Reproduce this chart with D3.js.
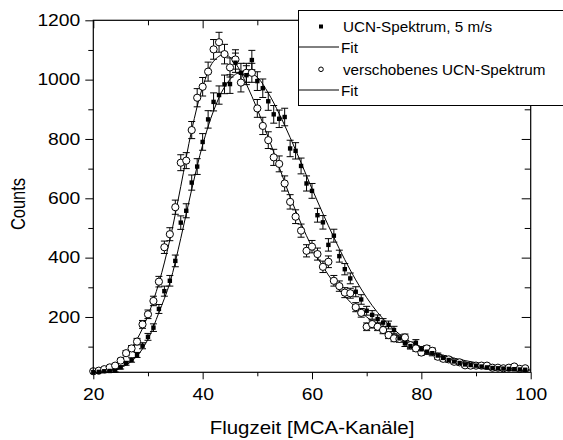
<!DOCTYPE html>
<html>
<head>
<meta charset="utf-8">
<script src="https://cdn.jsdelivr.net/npm/d3@7"></script>
<style>
  html, body { margin: 0; padding: 0; background: #fff; }
  svg { display: block; font-family: "Liberation Sans", Arial, sans-serif; }
</style>
</head>
<body>
<svg id="chart" width="563" height="440"></svg>
<script>
// ---- data ----
const channels = [20,21,22,23,24,25,26,27,28,29,30,31,32,33,34,35,36,37,38,39,
  40,41,42,43,44,45,46,47,48,49,50,51,52,53,54,55,56,57,58,59,
  60,61,62,63,64,65,66,67,68,69,70,71,72,73,74,75,76,77,78,79,
  80,81,82,83,84,85,86,87,88,89,90,91,92,93,94,95,96,97,98,99];

const spectrum5 = [14,15,17,18,19,30,44,55,72,103,133,164,227,287,322,389,518,558,653,707,
  790,866,925,948,984,985,1057,1023,1015,1066,995,971,927,883,868,874,768,760,709,650,
  625,543,519,443,474,405,361,330,285,259,221,207,193,181,173,156,128,111,102,113,
  91,83,78,70,62,55,50,45,40,38,36,33,30,28,27,26,25,24,23,22];

const spectrumShifted = [17,19,24,30,36,53,78,94,117,175,209,254,319,435,479,570,720,727,830,939,
  976,1027,1102,1126,1086,1041,1068,990,1023,1023,903,844,796,738,716,650,588,538,491,423,
  437,412,369,386,322,304,282,280,233,214,167,176,167,156,139,128,126,131,105,94,
  80,94,86,66,59,57,49,47,37,36,36,36,36,29,29,27,29,33,25,27];

const fitChannels = [20,22,24,26,28,30,32,34,36,38,40,42,44,46,48,50,52,54,56,58,
  60,62,64,66,68,70,72,74,76,78,80,82,84,86,88,90,92,94,96,98,100];
const fit5 = [10,14,22,38,68,125,215,315,465,630,780,895,975,1018,1028,1008,955,885,805,720,
  632,548,468,393,325,265,215,175,142,116,95,79,66,56,48,41,35,30,26,22,19];
const fitShifted = [14,22,40,72,125,205,315,460,640,830,975,1062,1085,1055,985,900,805,705,605,515,
  435,370,315,270,232,200,172,148,128,110,95,82,71,61,53,46,40,35,30,26,23];

const xMajor = [20,40,60,80,100];
const xMinor = [30,50,70,90];
const yMajor = [200,400,600,800,1000,1200];
const yMinor = [100,300,500,700,900,1100];

const legendLabels = ["UCN-Spektrum, 5 m/s", "Fit", "verschobenes UCN-Spektrum", "Fit"];
const xTitle = "Flugzeit [MCA-Kanäle]";
const yTitle = "Counts";

// ---- layout ----
const svg = d3.select("#chart");
const L = 93.3, R = 530.7, T = 20.3, B = 372.3;
const x = d3.scaleLinear().domain([20, 100]).range([L, R]);
const y = d3.scaleLinear().domain([13.5, 1200]).range([B, T]);

const axisColor = "#000";
const tickFont = 16.5;
const SX = 1.17; // horizontal stretch of the reference lettering

// fits
const line = d3.line().x(d => x(d[0])).y(d => y(d[1])).curve(d3.curveCatmullRom.alpha(0.5));
[fit5, fitShifted].forEach(f => {
  svg.append("path")
    .datum(fitChannels.map((c, i) => [c, f[i]]))
    .attr("d", line)
    .attr("fill", "none")
    .attr("stroke", "#000")
    .attr("stroke-width", 1);
});

// error bars
function errorBars(vals) {
  const g = svg.append("g").attr("stroke", "#000").attr("stroke-width", 1).attr("fill", "none");
  channels.forEach((c, i) => {
    const v = vals[i], e = Math.sqrt(v);
    const cx = x(c), y1 = y(v + e), y2 = y(Math.max(v - e, 13.5));
    g.append("line").attr("x1", cx).attr("x2", cx).attr("y1", y1).attr("y2", y2);
    g.append("line").attr("x1", cx - 3.5).attr("x2", cx + 3.5).attr("y1", y1).attr("y2", y1);
    if (v - e > 13.5)
      g.append("line").attr("x1", cx - 3.5).attr("x2", cx + 3.5).attr("y1", y2).attr("y2", y2);
  });
}
errorBars(spectrum5);
errorBars(spectrumShifted);

// markers
svg.append("g").selectAll("circle")
  .data(channels.map((c, i) => [c, spectrumShifted[i]]))
  .join("circle")
  .attr("cx", d => x(d[0])).attr("cy", d => y(d[1])).attr("r", 3.6)
  .attr("fill", "#fff").attr("stroke", "#000").attr("stroke-width", 1);

svg.append("g").selectAll("rect")
  .data(channels.map((c, i) => [c, spectrum5[i]]))
  .join("rect")
  .attr("x", d => x(d[0]) - 2.2).attr("y", d => y(d[1]) - 2.2)
  .attr("width", 4.4).attr("height", 4.4).attr("fill", "#000");

// axes
function styleAxis(g) {
  g.select(".domain").remove();
  g.selectAll("line").attr("stroke", axisColor).attr("stroke-width", 1);
  g.selectAll("text").attr("font-size", tickFont).attr("fill", "#000")
    .attr("font-family", "'Liberation Sans', Arial, sans-serif");
}
function stretchText(g) {
  g.selectAll("text").each(function () {
    const t = d3.select(this);
    const tx = +t.attr("x") || 0;
    t.attr("x", 0).attr("transform", `translate(${tx},0) scale(${SX},1)`);
  });
}
// bottom
svg.append("g").attr("transform", `translate(0,${B})`)
  .call(d3.axisBottom(x).tickValues(xMajor).tickSize(7).tickPadding(8.5).tickFormat(d3.format("d")))
  .call(styleAxis).call(stretchText);
svg.append("g").attr("transform", `translate(0,${B})`)
  .call(d3.axisBottom(x).tickValues(xMinor).tickSize(4).tickFormat(""))
  .call(styleAxis);
// top (inward)
svg.append("g").attr("transform", `translate(0,${T})`)
  .call(d3.axisBottom(x).tickValues(xMajor).tickSize(8).tickFormat(""))
  .call(styleAxis);
svg.append("g").attr("transform", `translate(0,${T})`)
  .call(d3.axisBottom(x).tickValues(xMinor).tickSize(5).tickFormat(""))
  .call(styleAxis);
// left
svg.append("g").attr("transform", `translate(${L},0)`)
  .call(d3.axisLeft(y).tickValues(yMajor).tickSize(8).tickPadding(5).tickFormat(d3.format("d")))
  .call(styleAxis).call(stretchText);
svg.append("g").attr("transform", `translate(${L},0)`)
  .call(d3.axisLeft(y).tickValues(yMinor).tickSize(5).tickFormat(""))
  .call(styleAxis);
// right (inward)
svg.append("g").attr("transform", `translate(${R},0)`)
  .call(d3.axisLeft(y).tickValues(yMajor).tickSize(9).tickFormat(""))
  .call(styleAxis);
svg.append("g").attr("transform", `translate(${R},0)`)
  .call(d3.axisLeft(y).tickValues(yMinor).tickSize(6).tickFormat(""))
  .call(styleAxis);

// frame
svg.append("rect").attr("x", L).attr("y", T).attr("width", R - L).attr("height", B - T)
  .attr("fill", "none").attr("stroke", axisColor).attr("stroke-width", 1.2);

// axis titles
svg.append("text").attr("transform", `translate(${(L + R) / 2},433.5) scale(${SX},1)`)
  .attr("text-anchor", "middle").attr("font-size", 17.5).text(xTitle);
svg.append("text").attr("transform", `translate(24.5,204) scale(${SX},1) rotate(-90)`)
  .attr("text-anchor", "middle").attr("font-size", 16.5).text(yTitle);

// legend
const lg = svg.append("g");
lg.append("rect").attr("x", 298.5).attr("y", 10.5).attr("width", 280).attr("height", 95)
  .attr("fill", "#fff").attr("stroke", "#000").attr("stroke-width", 1);
const rows = [26.5, 47, 69.3, 90];
lg.append("rect").attr("x", 321 - 2).attr("y", rows[0] - 2).attr("width", 4).attr("height", 4).attr("fill", "#000");
lg.append("line").attr("x1", 299).attr("x2", 339).attr("y1", rows[1]).attr("y2", rows[1]).attr("stroke", "#000");
lg.append("circle").attr("cx", 321).attr("cy", rows[2]).attr("r", 2.3).attr("fill", "#fff").attr("stroke", "#000");
lg.append("line").attr("x1", 299).attr("x2", 339).attr("y1", rows[3]).attr("y2", rows[3]).attr("stroke", "#000");
legendLabels.forEach((t, i) => {
  lg.append("text")
    .attr("transform", `translate(${i % 2 === 0 ? 343 : 341},${rows[i] + 5.8}) scale(1.03,1)`)
    .attr("font-size", 14.8).text(t);
});
</script>
</body>
</html>
